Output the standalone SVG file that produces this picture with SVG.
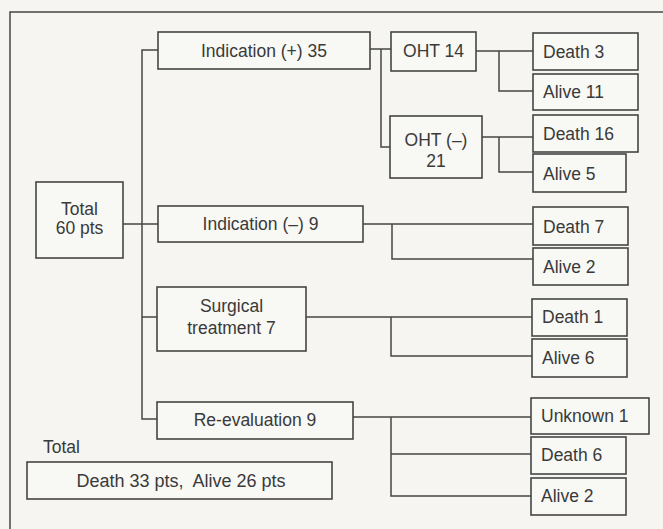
<svg xmlns="http://www.w3.org/2000/svg" width="663" height="529" viewBox="0 0 663 529">
<style>
.bg{fill:#f6f5f1}
.box{fill:#f8f8f5;stroke:#454545;stroke-width:1.6}
.ln{fill:none;stroke:#454545;stroke-width:1.5}
text{font-family:"Liberation Sans",Arial,sans-serif;font-size:17.5px;fill:#3a3a3a}
.c{text-anchor:middle}
</style>
<rect class="bg" x="0" y="0" width="663" height="529"/>
<g id="frame"><path class="ln" d="M10,529 V12 H663"/></g>
<g id="connectors">
<path class="ln" d="M123,224 H158"/>
<path class="ln" d="M158,50 H142 V419 H157"/>
<path class="ln" d="M142,317 H157"/>
<path class="ln" d="M370,49 H391"/>
<path class="ln" d="M381,49 V147 H390"/>
<path class="ln" d="M476,51 H533"/>
<path class="ln" d="M499,51 V91 H533"/>
<path class="ln" d="M482,137 H533"/>
<path class="ln" d="M499,137 V172 H533"/>
<path class="ln" d="M363,224 H533"/>
<path class="ln" d="M392,224 V259 H533"/>
<path class="ln" d="M306,317 H532"/>
<path class="ln" d="M391,317 V356 H532"/>
<path class="ln" d="M353,417 H531"/>
<path class="ln" d="M391,417 V496 H531"/>
<path class="ln" d="M391,454 H531"/>
</g>
<g id="total"><rect class="box" x="36" y="182" width="87" height="76"/><text class="c" x="79.5" y="215">Total</text><text class="c" x="79.5" y="234">60 pts</text></g>
<g id="ind-plus"><rect class="box" x="158" y="32" width="212" height="37"/><text class="c" x="264" y="57">Indication (+) 35</text></g>
<g id="ind-minus"><rect class="box" x="158" y="206" width="205" height="36"/><text class="c" x="260.5" y="230">Indication (–) 9</text></g>
<g id="surgical"><rect class="box" x="157" y="287" width="149" height="64"/><text class="c" x="231.5" y="312">Surgical</text><text class="c" x="231.5" y="334">treatment 7</text></g>
<g id="reeval"><rect class="box" x="157" y="402" width="196" height="37"/><text class="c" x="255" y="426">Re-evaluation 9</text></g>
<g id="total-label"><text x="43" y="453">Total</text></g>
<g id="total-sum"><rect class="box" x="27" y="462" width="305" height="37"/><text class="c" x="181" y="487" style="font-size:18px">Death 33 pts,&#160; Alive 26 pts</text></g>
<g id="oht14"><rect class="box" x="391" y="32" width="85" height="39"/><text class="c" x="433.5" y="57">OHT 14</text></g>
<g id="ohtminus"><rect class="box" x="390" y="116" width="92" height="62"/><text class="c" x="436" y="146">OHT (–)</text><text class="c" x="436" y="167">21</text></g>
<g id="death3"><rect class="box" x="533" y="33" width="105" height="37"/><text x="543" y="58">Death 3</text></g>
<g id="alive11"><rect class="box" x="533" y="74" width="105" height="36"/><text x="543" y="98">Alive 11</text></g>
<g id="death16"><rect class="box" x="533" y="115" width="105" height="37"/><text x="543" y="140">Death 16</text></g>
<g id="alive5"><rect class="box" x="533" y="154" width="93" height="38"/><text x="543" y="180">Alive 5</text></g>
<g id="death7"><rect class="box" x="533" y="207" width="95" height="38"/><text x="543" y="233">Death 7</text></g>
<g id="alive2a"><rect class="box" x="533" y="248" width="95" height="37"/><text x="543" y="273">Alive 2</text></g>
<g id="death1"><rect class="box" x="532" y="299" width="95" height="37"/><text x="542" y="323">Death 1</text></g>
<g id="alive6"><rect class="box" x="532" y="339" width="95" height="38"/><text x="542" y="364">Alive 6</text></g>
<g id="unknown1"><rect class="box" x="531" y="398" width="118" height="36"/><text x="541" y="422">Unknown 1</text></g>
<g id="death6"><rect class="box" x="531" y="437" width="95" height="37"/><text x="541" y="461">Death 6</text></g>
<g id="alive2b"><rect class="box" x="531" y="478" width="95" height="37"/><text x="541" y="502">Alive 2</text></g>
</svg>
